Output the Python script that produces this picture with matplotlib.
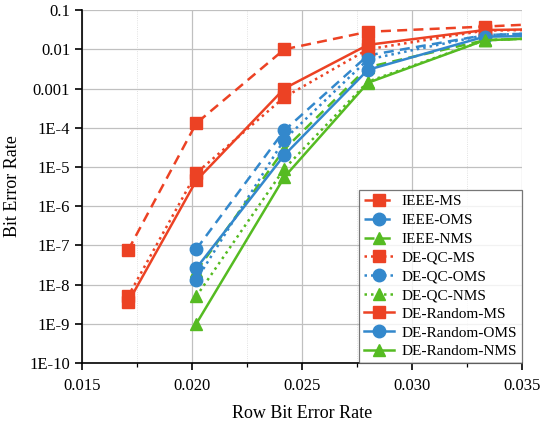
import matplotlib as mpl
mpl.use('Agg')

import matplotlib.pyplot as plt
import matplotlib.ticker as ticker
import numpy


# %% data (last column lies beyond the x range)
x_ms  = [0.0171, 0.0202, 0.0242, 0.0280, 0.0333, 0.0385]
x_oth = [0.0202, 0.0242, 0.0280, 0.0333, 0.0385]

ieee_ms     = [7.5e-8, 1.3e-4, 1.0e-2, 2.8e-2, 3.8e-2, 5.2e-2]
deqc_ms     = [5.0e-9, 7.0e-6, 6.0e-4, 1.0e-2, 3.0e-2, 3.3e-2]
derandom_ms = [3.5e-9, 4.5e-6, 1.0e-3, 1.3e-2, 3.1e-2, 3.4e-2]

ieee_oms     = [8.0e-8, 8.5e-5, 7.0e-3, 2.3e-2, 2.9e-2]
deqc_oms     = [1.3e-8, 5.0e-5, 5.5e-3, 2.3e-2, 2.9e-2]
derandom_oms = [2.6e-8, 2.0e-5, 3.0e-3, 2.1e-2, 2.3e-2]

ieee_nms     = [2.2e-8, 2.8e-5, 3.5e-3, 1.7e-2, 2.2e-2]
deqc_nms     = [5.0e-9, 9.0e-6, 1.5e-3, 1.7e-2, 2.2e-2]
derandom_nms = [1.0e-9, 5.5e-6, 1.4e-3, 1.7e-2, 2.2e-2]

ytick_vals   = [1e-10, 1e-9, 1e-8, 1e-7, 1e-6, 1e-5, 1e-4, 1e-3, 1e-2, 1e-1]
ytick_labels = ['1E-10', '1E-9', '1E-8', '1E-7', '1E-6', '1E-5', '1E-4',
                '0.001', '0.01', '0.1']
xtick_vals   = [0.015, 0.020, 0.025, 0.030, 0.035]


# %%
red   = '#EC4224'
blue  = '#3388CC'
green = '#55BB22'

dash = (0, (4, 2.5))
dot  = (0, (1, 1.6))

plt.rcParams['font.family'] = ['Liberation Serif', 'DejaVu Serif']

fig = plt.figure(figsize=[5.46, 4.21], dpi=100)
ax = fig.add_axes([0.150, 0.138, 0.806, 0.838])

series = [
    (x_ms,  ieee_ms,      red,   's', dash,    'IEEE-MS'),
    (x_oth, ieee_oms,     blue,  'o', dash,    'IEEE-OMS'),
    (x_oth, ieee_nms,     green, '^', dash,    'IEEE-NMS'),
    (x_ms,  deqc_ms,      red,   's', dot,     'DE-QC-MS'),
    (x_oth, deqc_oms,     blue,  'o', dot,     'DE-QC-OMS'),
    (x_oth, deqc_nms,     green, '^', dot,     'DE-QC-NMS'),
    (x_ms,  derandom_ms,  red,   's', '-',     'DE-Random-MS'),
    (x_oth, derandom_oms, blue,  'o', '-',     'DE-Random-OMS'),
    (x_oth, derandom_nms, green, '^', '-',     'DE-Random-NMS'),
]

for xs, ys, col, mk, ls, lab in series:
    ax.plot(xs, ys, color=col, marker=mk, linestyle=ls, linewidth=1.8,
            markersize=9, label=lab)

ax.set_yscale('log')
ax.set_xlim(0.015, 0.035)
ax.set_ylim(1e-10, 1e-1)

ax.set_yticks(ytick_vals)
ax.set_yticklabels(ytick_labels)
ax.yaxis.set_minor_locator(ticker.LogLocator(base=10, subs=numpy.arange(2, 10)))
ax.yaxis.set_minor_formatter(ticker.NullFormatter())

ax.set_xticks(xtick_vals)
ax.xaxis.set_major_formatter(ticker.FormatStrFormatter('%.3f'))
ax.xaxis.set_minor_locator(ticker.MultipleLocator(0.0025))

ax.grid(True, which='major', color='#c0c0c0', linewidth=0.9)
ax.grid(True, which='minor', color='#d8d8d8', linewidth=0.6, linestyle=':')
ax.set_axisbelow(True)

for s in ['top', 'right']:
    ax.spines[s].set_visible(False)
for s in ['left', 'bottom']:
    ax.spines[s].set_linewidth(1.2)

ax.tick_params(which='major', direction='out', length=5, width=1.2, labelsize=12)
ax.tick_params(which='minor', direction='out', length=3, width=0.9)
ax.tick_params(axis='x', pad=6)

ax.set_xlabel('Row Bit Error Rate', fontsize=13, labelpad=8)
ax.set_ylabel('Bit Error Rate', fontsize=13, labelpad=6)

leg = ax.legend(loc='lower right', fontsize=11, frameon=True, fancybox=False,
                borderaxespad=0, handlelength=2.0, handletextpad=0.5,
                labelspacing=0.33, borderpad=0.3, markerscale=1.0)
leg.get_frame().set_edgecolor('#555555')
leg.get_frame().set_linewidth(0.9)

plt.savefig('out.png', dpi=100)
